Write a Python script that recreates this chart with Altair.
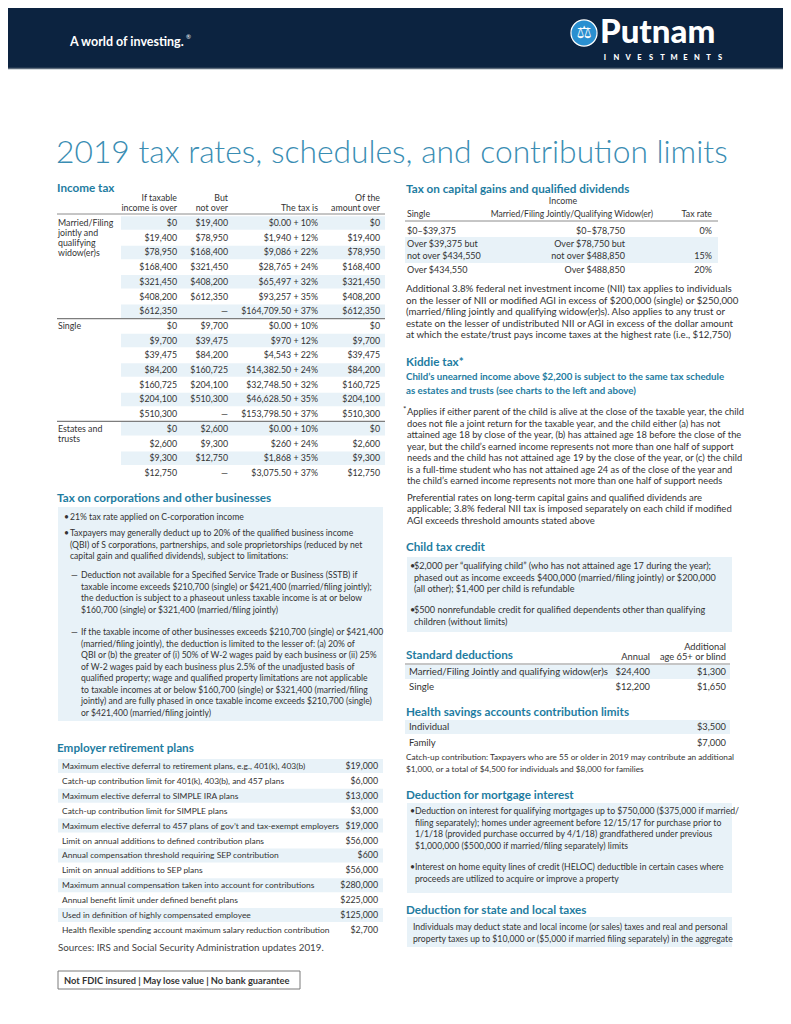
import altair as alt
import pandas as pd

# ---------------- content ----------------
TITLE = "2019 tax rates, schedules, and contribution limits"
TAGLINE = "A world of investing."
BRAND = "Putnam"
BRAND_SUB = "INVESTMENTS"

income_head_top = ["If taxable", "But", "", "Of the"]
income_head_bottom = ["income is over", "not over", "The tax is", "amount over"]

married_label = ["Married/Filing", "jointly and", "qualifying", "widow(er)s"]
married_over = ["$0", "$19,400", "$78,950", "$168,400", "$321,450", "$408,200", "$612,350"]
married_not_over = ["$19,400", "$78,950", "$168,400", "$321,450", "$408,200", "$612,350", "—"]
married_tax = ["$0.00 + 10%", "$1,940 + 12%", "$9,086 + 22%", "$28,765 + 24%",
               "$65,497 + 32%", "$93,257 + 35%", "$164,709.50 + 37%"]

single_label = ["Single"]
single_over = ["$0", "$9,700", "$39,475", "$84,200", "$160,725", "$204,100", "$510,300"]
single_not_over = ["$9,700", "$39,475", "$84,200", "$160,725", "$204,100", "$510,300", "—"]
single_tax = ["$0.00 + 10%", "$970 + 12%", "$4,543 + 22%", "$14,382.50 + 24%",
              "$32,748.50 + 32%", "$46,628.50 + 35%", "$153,798.50 + 37%"]

estates_label = ["Estates and", "trusts"]
estates_over = ["$0", "$2,600", "$9,300", "$12,750"]
estates_not_over = ["$2,600", "$9,300", "$12,750", "—"]
estates_tax = ["$0.00 + 10%", "$260 + 24%", "$1,868 + 35%", "$3,075.50 + 37%"]

corp_bullets = [
    ["21% tax rate applied on C-corporation income"],
    ["Taxpayers may generally deduct up to 20% of the qualified business income",
     "(QBI) of S corporations, partnerships, and sole proprietorships (reduced by net",
     "capital gain and qualified dividends), subject to limitations:"],
]
corp_dashes = [
    ["Deduction not available for a Specified Service Trade or Business (SSTB) if",
     "taxable income exceeds $210,700 (single) or $421,400 (married/filing jointly);",
     "the deduction is subject to a phaseout unless taxable income is at or below",
     "$160,700 (single) or $321,400 (married/filing jointly)"],
    ["If the taxable income of other businesses exceeds $210,700 (single) or $421,400",
     "(married/filing jointly), the deduction is limited to the lesser of: (a) 20% of",
     "QBI or (b) the greater of (i) 50% of W-2 wages paid by each business or (ii) 25%",
     "of W-2 wages paid by each business plus 2.5% of the unadjusted basis of",
     "qualified property; wage and qualified property limitations are not applicable",
     "to taxable incomes at or below $160,700 (single) or $321,400 (married/filing",
     "jointly) and are fully phased in once taxable income exceeds $210,700 (single)",
     "or $421,400 (married/filing jointly)"],
]

employer_labels = [
    "Maximum elective deferral to retirement plans, e.g., 401(k), 403(b)",
    "Catch-up contribution limit for 401(k), 403(b), and 457 plans",
    "Maximum elective deferral to SIMPLE IRA plans",
    "Catch-up contribution limit for SIMPLE plans",
    "Maximum elective deferral to 457 plans of gov’t and tax-exempt employers",
    "Limit on annual additions to defined contribution plans",
    "Annual compensation threshold requiring SEP contribution",
    "Limit on annual additions to SEP plans",
    "Maximum annual compensation taken into account for contributions",
    "Annual benefit limit under defined benefit plans",
    "Used in definition of highly compensated employee",
    "Health flexible spending account maximum salary reduction contribution",
]
employer_values = ["$19,000", "$6,000", "$13,000", "$3,000", "$19,000", "$56,000",
                   "$600", "$56,000", "$280,000", "$225,000", "$125,000", "$2,700"]
SOURCES = "Sources: IRS and Social Security Administration updates 2019."
DISCLAIMER = "Not FDIC insured  |  May lose value  |  No bank guarantee"

cg_head = ["Single", "Married/Filing Jointly/Qualifying Widow(er)", "Tax rate"]
cg_single = [["$0–$39,375"], ["Over $39,375 but", "not over $434,550"], ["Over $434,550"]]
cg_joint = [["$0–$78,750"], ["Over $78,750 but", "not over $488,850"], ["Over $488,850"]]
cg_rate = ["0%", "15%", "20%"]
nii_text = [
    "Additional 3.8% federal net investment income (NII) tax applies to individuals",
    "on the lesser of NII or modified AGI in excess of $200,000 (single) or $250,000",
    "(married/filing jointly and qualifying widow(er)s). Also applies to any trust or",
    "estate on the lesser of undistributed NII or AGI in excess of the dollar amount",
    "at which the estate/trust pays income taxes at the highest rate (i.e., $12,750)",
]
kiddie_sub = ["Child’s unearned income above $2,200 is subject to the same tax schedule",
              "as estates and trusts (see charts to the left and above)"]
kiddie_note = [
    "Applies if either parent of the child is alive at the close of the taxable year, the child",
    "does not file a joint return for the taxable year, and the child either (a) has not",
    "attained age 18 by close of the year, (b) has attained age 18 before the close of the",
    "year, but the child’s earned income represents not more than one half of support",
    "needs and the child has not attained age 19 by the close of the year, or (c) the child",
    "is a full-time student who has not attained age 24 as of the close of the year and",
    "the child’s earned income represents not more than one half of support needs",
]
kiddie_pref = [
    "Preferential rates on long-term capital gains and qualified dividends are",
    "applicable; 3.8% federal NII tax is imposed separately on each child if modified",
    "AGI exceeds threshold amounts stated above",
]
ctc_bullets = [
    ["$2,000 per “qualifying child” (who has not attained age 17 during the year);",
     "phased out as income exceeds $400,000 (married/filing jointly) or $200,000",
     "(all other); $1,400 per child is refundable"],
    ["$500 nonrefundable credit for qualified dependents other than qualifying",
     "children (without limits)"],
]
sd_labels = ["Married/Filing Jointly and qualifying widow(er)s", "Single"]
sd_annual = ["$24,400", "$12,200"]
sd_additional = ["$1,300", "$1,650"]
hsa_labels = ["Individual", "Family"]
hsa_values = ["$3,500", "$7,000"]
hsa_note = ["Catch-up contribution: Taxpayers who are 55 or older in 2019 may contribute an additional",
            "$1,000, or a total of $4,500 for individuals and $8,000 for families"]
mort_bullets = [
    ["Deduction on interest for qualifying mortgages up to $750,000 ($375,000 if married/",
     "filing separately); homes under agreement before 12/15/17 for purchase prior to",
     "1/1/18 (provided purchase occurred by 4/1/18) grandfathered under previous",
     "$1,000,000 ($500,000 if married/filing separately) limits"],
    ["Interest on home equity lines of credit (HELOC) deductible in certain cases where",
     "proceeds are utilized to acquire or improve a property"],
]
salt_text = ["Individuals may deduct state and local income (or sales) taxes and real and personal",
             "property taxes up to $10,000 or ($5,000 if married filing separately) in the aggregate"]

# ---------------- styles ----------------
FONT = "Lato"
BODY = "#333333"
TEAL = "#1e7ca1"
TITLE_C = "#3a8db3"
SHADE = "#e8f2f8"
NAVY = "#0c2340"
RULE_C = "#8c8c8c"
S_BODY = 8.7
S_TAB = 8.8
S_HEAD = 11.7

texts, rects, rules = [], [], []


def T(x, y, s, size=S_BODY, color=BODY, weight="normal", align="left", font=FONT):
    texts.append(dict(x=x, y=y, text=s, size=size, color=color, weight=str(weight),
                      align=align, font=font))


def R(x, x2, y, y2, fill=SHADE):
    rects.append(dict(x=x, x2=x2, y=y, y2=y2, fill=fill))


def L(x, x2, y, color=RULE_C, w=1.0):
    rules.append(dict(x=x, x2=x2, y=y, color=color, w=w))


# ---------------- header ----------------
R(0, 791, 0, 68, NAVY)
L(0, 791, 68.5, "#5d6b7b", 1.5)
T(70, 42, TAGLINE, 12.5, "#ffffff", "bold")
T(186, 37, "®", 6, "#ffffff")
T(600, 33, BRAND, 33, "#ffffff", "900")
for i, ch in enumerate(BRAND_SUB):
    T(605 + i * 11.5, 57.5, ch, 7.5, "#ffffff", "900", "center")
T(584, 33, "⚖", 17, "#ffffff", "normal", "center", "DejaVu Sans")

# ---------------- title ----------------
T(56, 153, TITLE, 31.8, TITLE_C, "300")

# ---------------- income tax ----------------
LX, LX2 = 57, 385
T(LX, 188, "Income tax", S_HEAD, TEAL, "bold")
col_r = [177, 228, 318, 380]
for cx, top, bot in zip(col_r, income_head_top, income_head_bottom):
    if top:
        T(cx, 198, top, S_TAB, align="right")
    T(cx, 208, bot, S_TAB, align="right")
L(LX, LX2, 214)

groups = [
    (married_label, married_over, married_not_over, married_tax),
    (single_label, single_over, single_not_over, single_tax),
    (estates_label, estates_over, estates_not_over, estates_tax),
]
ROW0, PITCH = 223, 14.7
gi = 0
for gnum, (label, over, not_over, tax) in enumerate(groups):
    if gnum > 0:
        L(LX, LX2, ROW0 + PITCH * (gi - 0.5), "#7d7d7d", 1.2)
    for k, line in enumerate(label):
        T(58, ROW0 + PITCH * gi + 10 * k, line, S_TAB)
    for j in range(len(over)):
        y = ROW0 + PITCH * gi
        if gi % 2 == 0:
            R(121, LX2, y - PITCH / 2 + 0.6, y + PITCH / 2 - 0.6)
        for cx, val in zip(col_r, [over[j], not_over[j], tax[j], over[j]]):
            T(cx, y, val, S_TAB, align="right")
        gi += 1

# ---------------- corporations ----------------
T(LX, 498, "Tax on corporations and other businesses", S_HEAD, TEAL, "bold")
R(58, 383, 507, 721)
LS = 11.5
S_CORP = 8.6
for y0, lines in zip([517, 533], corp_bullets):
    T(64, y0, "•", S_CORP)
    for k, line in enumerate(lines):
        T(70, y0 + LS * k, line, S_CORP)
for y0, lines in zip([575, 632], corp_dashes):
    T(71, y0, "—", S_CORP)
    for k, line in enumerate(lines):
        T(81, y0 + LS * k, line, S_CORP)

# ---------------- employer plans ----------------
T(LX, 748, "Employer retirement plans", S_HEAD, TEAL, "bold")
for j, (lab, val) in enumerate(zip(employer_labels, employer_values)):
    y = 766 + 14.9 * j
    if j % 2 == 0:
        R(58, 383, y - 7.0, y + 7.0)
    T(62, y, lab, 8.45)
    T(378, y, val, S_TAB, align="right")
T(58, 948, SOURCES, 9.8, "#444444")
T(64, 980.5, DISCLAIMER, 9.3, "#333333", "bold")

# ---------------- capital gains ----------------
RX, RX2 = 406, 730
T(RX, 189, "Tax on capital gains and qualified dividends", S_HEAD, TEAL, "bold")
T(563, 201, "Income", S_TAB, align="center")
T(407, 214, cg_head[0], S_TAB)
T(653, 214, cg_head[1], 8.5, align="right")
T(712, 214, cg_head[2], S_TAB, align="right")
L(405, 718, 221)
cg_y = [231, 244, 270]
for j in range(3):
    y = cg_y[j]
    if j == 1:
        R(405, 718, 237, 263)
    for k, line in enumerate(cg_single[j]):
        T(407, y + 12 * k, line, 9.0)
    for k, line in enumerate(cg_joint[j]):
        T(625, y + 12 * k, line, 9.0, align="right")
    T(712, y + 12 * (len(cg_single[j]) - 1), cg_rate[j], 9.0, align="right")
for k, line in enumerate(nii_text):
    T(RX, 289 + LS * k, line, 9.7)

# ---------------- kiddie tax ----------------
T(RX, 362, "Kiddie tax*", S_HEAD, TEAL, "bold")
for k, line in enumerate(kiddie_sub):
    T(RX, 377 + 14 * k, line, 9.7, TEAL, "bold")
T(403, 410, "*", 8)
for k, line in enumerate(kiddie_note):
    T(407, 412 + LS * k, line, 9.3)
for k, line in enumerate(kiddie_pref):
    T(407, 497.5 + LS * k, line, 9.5)

# ---------------- child tax credit ----------------
T(RX, 547, "Child tax credit", S_HEAD, TEAL, "bold")
R(407, 732, 557, 632)
for y0, lines in zip([566, 610], ctc_bullets):
    T(410, y0, "•", 9.1)
    for k, line in enumerate(lines):
        T(414, y0 + LS * k, line, 9.1)

# ---------------- standard deductions ----------------
T(RX, 655, "Standard deductions", S_HEAD, TEAL, "bold")
T(650, 657, "Annual", 9.3, align="right")
T(726, 647, "Additional", 9.3, align="right")
T(726, 657, "age 65+ or blind", 9.3, align="right")
L(405, RX2, 664)
for j in range(2):
    y = 672 + 15 * j
    if j == 0:
        R(405, RX2, y - 7, y + 7)
    T(409, y, sd_labels[j], 9.6)
    T(650, y, sd_annual[j], 9.3, align="right")
    T(726, y, sd_additional[j], 9.3, align="right")

# ---------------- HSA ----------------
T(RX, 712, "Health savings accounts contribution limits", S_HEAD, TEAL, "bold")
for j in range(2):
    y = 727 + 15.5 * j
    if j == 0:
        R(405, RX2, y - 7, y + 7)
    T(409, y, hsa_labels[j], 9.5)
    T(726, y, hsa_values[j], 9.3, align="right")
for k, line in enumerate(hsa_note):
    T(RX, 758 + 12 * k, line, 8.25)

# ---------------- mortgage ----------------
T(RX, 795, "Deduction for mortgage interest", S_HEAD, TEAL, "bold")
R(407, 732, 803, 893)
for y0, lines in zip([811, 867], mort_bullets):
    T(410, y0, "•", 8.7)
    for k, line in enumerate(lines):
        T(415, y0 + LS * k, line, 8.7)

# ---------------- state & local ----------------
T(RX, 910, "Deduction for state and local taxes", S_HEAD, TEAL, "bold")
R(407, 732, 917, 947)
for k, line in enumerate(salt_text):
    T(413, 927 + 12 * k, line, 8.7)

# ---------------- build chart ----------------
XS = alt.Scale(domain=[8, 783], nice=False, zero=False)
YS = alt.Scale(domain=[8, 1008], nice=False, zero=False, reverse=True)

rect_layer = alt.Chart(pd.DataFrame(rects)).mark_rect().encode(
    x=alt.X("x:Q", scale=XS, axis=None), x2="x2:Q",
    y=alt.Y("y:Q", scale=YS, axis=None), y2="y2:Q",
    color=alt.Color("fill:N", scale=None),
)
box_layer = alt.Chart(pd.DataFrame({"x": [58], "x2": [300], "y": [971], "y2": [989]})).mark_rect(
    fill="#ffffff", stroke="#7a7a7a", strokeWidth=1
).encode(
    x=alt.X("x:Q", scale=XS, axis=None), x2="x2:Q",
    y=alt.Y("y:Q", scale=YS, axis=None), y2="y2:Q",
)
rule_layer = alt.Chart(pd.DataFrame(rules)).mark_rule().encode(
    x=alt.X("x:Q", scale=XS, axis=None), x2="x2:Q",
    y=alt.Y("y:Q", scale=YS, axis=None),
    color=alt.Color("color:N", scale=None),
    size=alt.Size("w:Q", scale=None),
)
logo_layer = alt.Chart(pd.DataFrame({"x": [584], "y": [33]})).mark_circle(
    opacity=1, color="#2a8fd0", stroke="#ffffff", strokeWidth=1.2
).encode(
    x=alt.X("x:Q", scale=XS, axis=None),
    y=alt.Y("y:Q", scale=YS, axis=None),
    size=alt.value(680),
)

tdf = pd.DataFrame(texts)
text_layers = []
for (align, weight, font), sub in tdf.groupby(["align", "weight", "font"]):
    fw = int(weight) if weight.isdigit() else weight
    text_layers.append(
        alt.Chart(sub).mark_text(align=align, baseline="middle", font=font, fontWeight=fw).encode(
            x=alt.X("x:Q", scale=XS, axis=None),
            y=alt.Y("y:Q", scale=YS, axis=None),
            text="text:N",
            size=alt.Size("size:Q", scale=None),
            color=alt.Color("color:N", scale=None),
        )
    )

chart = alt.layer(rect_layer, box_layer, rule_layer, logo_layer, *text_layers).properties(
    width=775, height=1000, padding=0,
    autosize=alt.AutoSizeParams(type="none"),
).configure_view(stroke=None)

chart.save("out.html", embed_options={"renderer": "svg", "actions": False})
